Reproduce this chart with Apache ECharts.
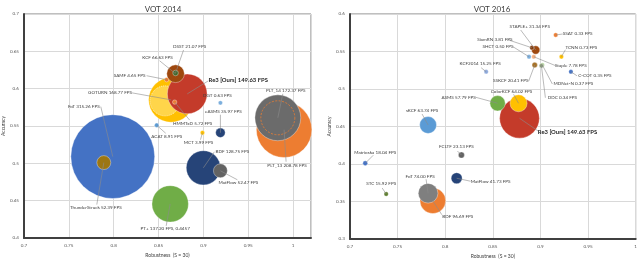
<!DOCTYPE html>
<html><head><meta charset="utf-8">
<script src="https://cdn.jsdelivr.net/npm/echarts@6/dist/echarts.min.js"></script>
<style>html,body{margin:0;padding:0;background:#fff}#c{width:640px;height:266px}</style>
</head><body><div id="c"></div>
<script>
// ---------- DATA: VOT 2014 ----------
const names14  = ['FoT','ThunderStruck','PT+','BDF','MatFlow','eASMS','MCT','ACAT','DGT','GOTURN','SAMF','Re3 [Ours]','HMMTxD','KCF','DSST','PLT_13','PLT_14'];
const robust14 = [0.799,0.789,0.863,0.900,0.919,0.919,0.899,0.848,0.919,0.864,0.859,0.882,0.868,0.869,0.869,0.990,0.983];
const acc14    = [0.509,0.501,0.4457,0.494,0.490,0.541,0.541,0.551,0.581,0.585,0.612,0.593,0.582,0.620,0.621,0.545,0.561];
const fps14    = [315.26,52.39,137.20,128.75,52.47,35.97,3.99,8.91,0.63,168.77,4.65,149.63,5.72,66.63,21.07,208.78,172.37];

// ---------- DATA: VOT 2016 ----------
const names16  = ['sKCF','Matrioska','STC','FCLTF','MatFlow','BDF','FoT','KCF2014','Re3 [Ours]','ASMS','ColorKCF','SHCT','Staple','STAPLE+','SiamRN','SSKCF','MDNet-N','DDC','SSAT','TCNN','C-COT'];
const robust16 = [0.782,0.716,0.738,0.817,0.812,0.787,0.782,0.843,0.878,0.855,0.877,0.888,0.893,0.895,0.891,0.894,0.902,0.901,0.916,0.922,0.932];
const acc16    = [0.452,0.401,0.360,0.412,0.381,0.351,0.361,0.523,0.461,0.481,0.481,0.543,0.543,0.552,0.555,0.532,0.532,0.531,0.572,0.543,0.523];
const fps16    = [63.74,18.04,15.92,23.13,41.73,96.69,74.00,15.25,149.63,57.79,64.02,0.50,7.78,31.34,3.81,20.41,0.37,0.34,0.33,0.73,0.35];

// axis ranges / ticks
const xRange14 = [0.7, 1.02], yRange14 = [0.4, 0.7];
const xRange16 = [0.7, 1.0],  yRange16 = [0.3, 0.6];
const tickStep = 0.05;
const titles = ['VOT 2014','VOT 2016'];
const xName = 'Robustness  (S = 30)', yName = 'Accuracy';

// ---------- STYLES ----------
const colors14 = ['#4472C4','#9C7613','#70AD47','#264478','#636363','#264478','#FFC000','#5B9BD5','#7CAFDD','#FFC000','#ED7D31','#C43B2A','#ED7D31','#9E480E','#43682B','#ED7D31','#6B6B6B'];
const colors16 = ['#5B9BD5','#4472C4','#5E7E2F','#636363','#264478','#ED7D31','#7F7F7F','#8FAADC','#C43B2A','#70AD47','#FFC000','#7CAFDD','#F4B183','#9E480E','#843C0C','#A5722A','#A9D18E','#8A9A7A','#ED7D31','#FFC000','#4472C4'];
// [label dx, label dy, line-end dx, line-end dy] relative to the mark
const lab14 = [[-29,-50,-12,-50],[-8,45,-7,42],[-5,25,-4,22],[29,-16,11,-16],[18,12,17,9],[3,-21,0,-18],[-4,10,-2,7],[10,11,9,8],[-3,-7,null,null],[-39,-6,-39,-6],[-37,-4,-20,-4],[51,-14,21,-13],[18,21,15,18],[-18,-16,-16,-13],[14,-26,8,-23],[3,36,2,32],[8,-27,5,-24]];
const lab16 = [[-6,-14,-6,-11],[10,-11,8,-8],[-5,-10,-4,-6],[-5,-8,-4,-4],[34,3,14,3],[25,16,9,14],[-8,-17,-2,-14],[-6,-8,-5,-4],[48,14,19,13],[-39,-6,-22,-6],[-7,-12,-5,-9],[-31,-10,-16,-10],[37,9,22,9],[-6,-23,-15,-20],[-37,-8,-24,-8],[-24,16,-6,16],[31,19,10,19],[21,32,4,32],[22,-1,7,-1],[20,-9,4,-7],[24,4,6,4]];
const labFix14 = {'GOTURN':[-61,-7]};
const rings = {
  'GOTURN': {dx:-6, dy:1, r:15, style:{fill:'#FFD54A', stroke:'rgba(255,255,255,0.9)', lineWidth:0.7, lineDash:[1,1]}},
  'PLT_14': {dx:0, dy:0, r:17, style:{fill:'none', stroke:'#ED7D31', lineWidth:0.8, lineDash:[2,1.5]}}
};
const FONT = 'Lato';

function bubbles(gi, names, rob, acc, fps, colors){
  return {type:'custom', xAxisIndex:gi, yAxisIndex:gi, clip:false, z:2,
    data: names.map((n,i)=>[rob[i],acc[i],fps[i],i]),
    renderItem(params, api){
      const i = api.value(3);
      const p = api.coord([api.value(0), api.value(1)]);
      const r = Math.max(2.2, api.value(2)*0.133);
      const ch = [{type:'circle', shape:{cx:p[0],cy:p[1],r:r}, style:{fill:colors[i], stroke:'rgba(255,255,255,0.45)', lineWidth:0.8}}];
      const rg = rings[names[i]];
      if (gi===0 && rg) ch.push({type:'circle', shape:{cx:p[0]+rg.dx, cy:p[1]+rg.dy, r:rg.r}, style:rg.style});
      return {type:'group', children:ch};
    }};
}
function labels(gi, names, rob, acc, fps, lab, fix){
  return {type:'custom', xAxisIndex:gi, yAxisIndex:gi, clip:false, z:5,
    data: names.map((n,i)=>[rob[i],acc[i],fps[i],i]),
    renderItem(params, api){
      const i = api.value(3);
      const p = api.coord([api.value(0), api.value(1)]);
      let L = lab[i];
      const nm = names[i];
      if (fix && fix[nm]) L = [fix[nm][0], fix[nm][1], L[2], L[3]];
      const ours = nm.indexOf('Ours')>=0;
      let txt = nm + ' ' + fps[i].toFixed(2) + ' FPS';
      if (nm==='PT+') txt += ', ' + acc[i];
      const ch = [];
      if (L[2]!==null) ch.push({type:'line', shape:{x1:p[0],y1:p[1],x2:p[0]+L[2],y2:p[1]+L[3]}, style:{stroke:'#8C8C8C', lineWidth:0.6}});
      ch.push({type:'text', x:p[0]+L[0], y:p[1]+L[1], style:{text:txt, fill: ours?'#262626':'#404040', fontFamily:FONT, fontSize: ours?5.9:4.6, fontWeight: ours?'bold':'normal', align:'center', verticalAlign:'middle'}});
      return {type:'group', children:ch};
    }};
}
// GOTURN label line end left of bubble center
lab14[9] = [-61,-7,-39,-7];

function xAx(gi, rng){
  return {gridIndex:gi, type:'value', min:rng[0], max:rng[1], interval:tickStep,
    name:xName, nameLocation:'middle', nameGap:15, nameTextStyle:{fontSize:5, color:'#404040', fontFamily:FONT},
    axisLine:{show:true, onZero:false, lineStyle:{color:'#404040', width:2}}, axisTick:{show:false},
    axisLabel:{fontSize:4.6, color:'#595959', margin:5, fontFamily:FONT, showMaxLabel: rng[1]===1.0},
    splitLine:{show:true, lineStyle:{color:'#D9D9D9', width:1}}};
}
function yAx(gi, rng){
  return {gridIndex:gi, type:'value', min:rng[0], max:rng[1], interval:tickStep,
    name:yName, nameLocation:'middle', nameGap:17, nameTextStyle:{fontSize:5, color:'#404040', fontFamily:FONT},
    axisLine:{show:true, onZero:false, lineStyle:{color:'#404040', width:2}}, axisTick:{show:false},
    axisLabel:{fontSize:4.6, color:'#595959', margin:5, fontFamily:FONT},
    splitLine:{show:true, lineStyle:{color:'#D9D9D9', width:1}}};
}

const chart = echarts.init(document.getElementById('c'), null, {renderer:'canvas'});
chart.setOption({
  animation:false,
  backgroundColor:'#fff',
  title:[
    {text:titles[0], left:158, top:0, textAlign:'center', textStyle:{fontSize:8, fontWeight:'normal', color:'#404040', fontFamily:FONT}},
    {text:titles[1], left:487, top:0, textAlign:'center', textStyle:{fontSize:8, fontWeight:'normal', color:'#404040', fontFamily:FONT}}
  ],
  grid:[
    {left:21, top:14, width:290, height:224, show:true, borderColor:'#7F7F7F', borderWidth:1},
    {left:350, top:14, width:289, height:225, show:true, borderColor:'#7F7F7F', borderWidth:1}
  ],
  xAxis:[xAx(0,xRange14), xAx(1,xRange16)],
  yAxis:[yAx(0,yRange14), yAx(1,yRange16)],
  series:[
    bubbles(0,names14,robust14,acc14,fps14,colors14),
    labels(0,names14,robust14,acc14,fps14,lab14),
    bubbles(1,names16,robust16,acc16,fps16,colors16),
    labels(1,names16,robust16,acc16,fps16,lab16)
  ]
});
</script></body></html>
